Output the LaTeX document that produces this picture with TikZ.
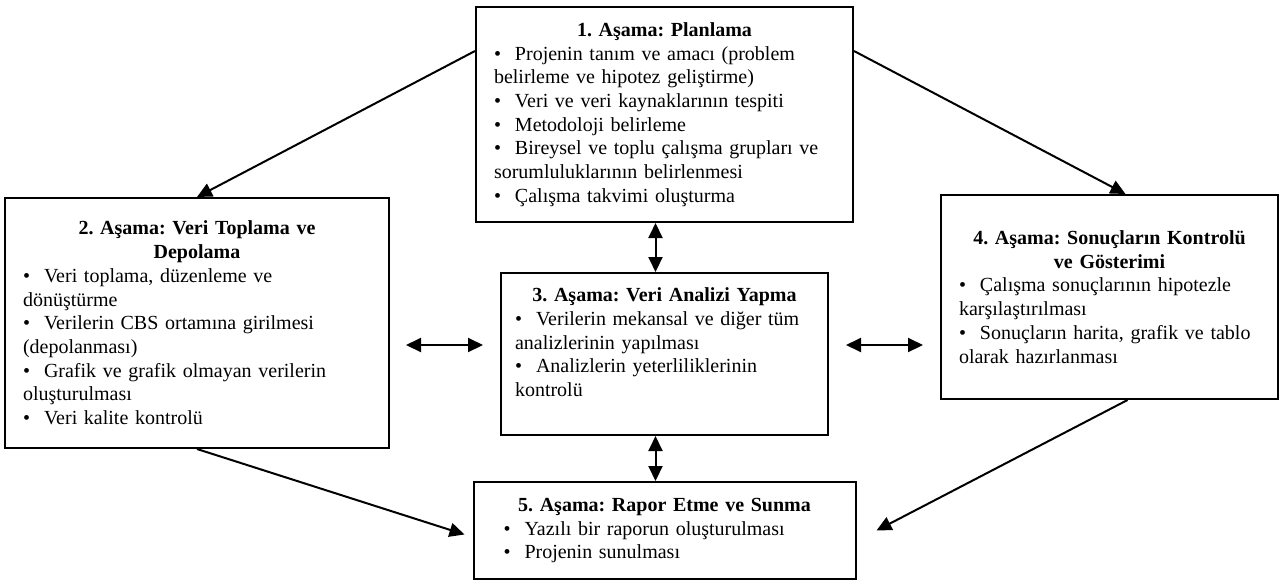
\documentclass[tikz,border=0pt]{standalone}
\usepackage{fontspec}
\setmainfont{Liberation Serif}
\usetikzlibrary{arrows.meta,positioning}

\frenchspacing
\newcommand{\asama}[1]{\makebox[\linewidth]{\bfseries #1}}
\newcommand{\madde}{\textbullet\hspace{7pt}}

\begin{document}
\begin{tikzpicture}[
  x=0.5pt, y=-0.5pt,
  font=\fontsize{10pt}{11.85pt}\selectfont,
  >={Triangle[length=7.5pt,width=7pt]},
  stage/.style = {draw, line width=1pt, align=left,
                  inner xsep=9pt, inner ysep=0pt},
  link/.style  = {line width=1pt}
]
\useasboundingbox (0,0) rectangle (1288,579);

\node[stage, text width=170.5pt, minimum height=107.5pt] (plan) at (664.5,114.5)
  {\asama{1. Aşama: Planlama}\\
   \madde Projenin tanım ve amacı (problem\\
   belirleme ve hipotez geliştirme)\\
   \madde Veri ve veri kaynaklarının tespiti\\
   \madde Metodoloji belirleme\\
   \madde Bireysel ve toplu çalışma grupları ve\\
   sorumluluklarının belirlenmesi\\
   \madde Çalışma takvimi oluşturma};

\node[stage, inner xsep=7pt, text width=149.5pt, minimum height=81pt,
      below=24.5pt of plan] (analiz)
  {\asama{3. Aşama: Veri Analizi Yapma}\\
   \madde Verilerin mekansal ve diğer tüm\\
   analizlerinin yapılması\\
   \madde Analizlerin yeterliliklerinin\\
   kontrolü\\ \mbox{}};

\node[stage, inner xsep=15pt, text width=161pt, minimum height=48.5pt,
      below=22.5pt of analiz] (rapor)
  {\asama{5. Aşama: Rapor Etme ve Sunma}\\
   \madde Yazılı bir raporun oluşturulması\\
   \madde Projenin sunulması};

\node[stage, text width=174pt, minimum height=125pt] (veri) at (197,323)
  {\asama{2. Aşama: Veri Toplama ve}\\
   \asama{Depolama}\\
   \madde Veri toplama, düzenleme ve\\
   dönüştürme\\
   \madde Verilerin CBS ortamına girilmesi\\
   (depolanması)\\
   \madde Grafik ve grafik olmayan verilerin\\
   oluşturulması\\
   \madde Veri kalite kontrolü};

\node[stage, text width=150.5pt, minimum height=102pt] (sonuc) at (1109.5,297)
  {\asama{4. Aşama: Sonuçların Kontrolü}\\
   \asama{ve Gösterimi}\\
   \madde Çalışma sonuçlarının hipotezle\\
   karşılaştırılması\\
   \madde Sonuçların harita, grafik ve tablo\\
   olarak hazırlanması};

% diagonal links
\draw[link, ->] ([yshift=-22.5pt]plan.north west) -- (veri.north);
\draw[link, ->] ([yshift=-22.5pt]plan.north east) -- ([xshift=8pt]sonuc.north);
\draw[link, ->] (veri.south) -- ([xshift=-4pt,yshift=-2pt]rapor.west);
\draw[link, ->] ([xshift=9pt]sonuc.south) -- ([xshift=10pt]rapor.east);

% two-way links
\draw[link, <->] ([xshift=-4.5pt]plan.south) -- ([xshift=-4.5pt]plan.south |- analiz.north);
\draw[link, <->] ([xshift=-4.5pt]analiz.south) -- ([xshift=-4.5pt]analiz.south |- rapor.north);
\draw[link, <->] ([xshift=-47pt,yshift=4.5pt]analiz.west) -- ([xshift=-8.5pt,yshift=4.5pt]analiz.west);
\draw[link, <->] ([xshift=8.5pt,yshift=4.5pt]analiz.east) -- ([xshift=47pt,yshift=4.5pt]analiz.east);

\end{tikzpicture}
\end{document}
